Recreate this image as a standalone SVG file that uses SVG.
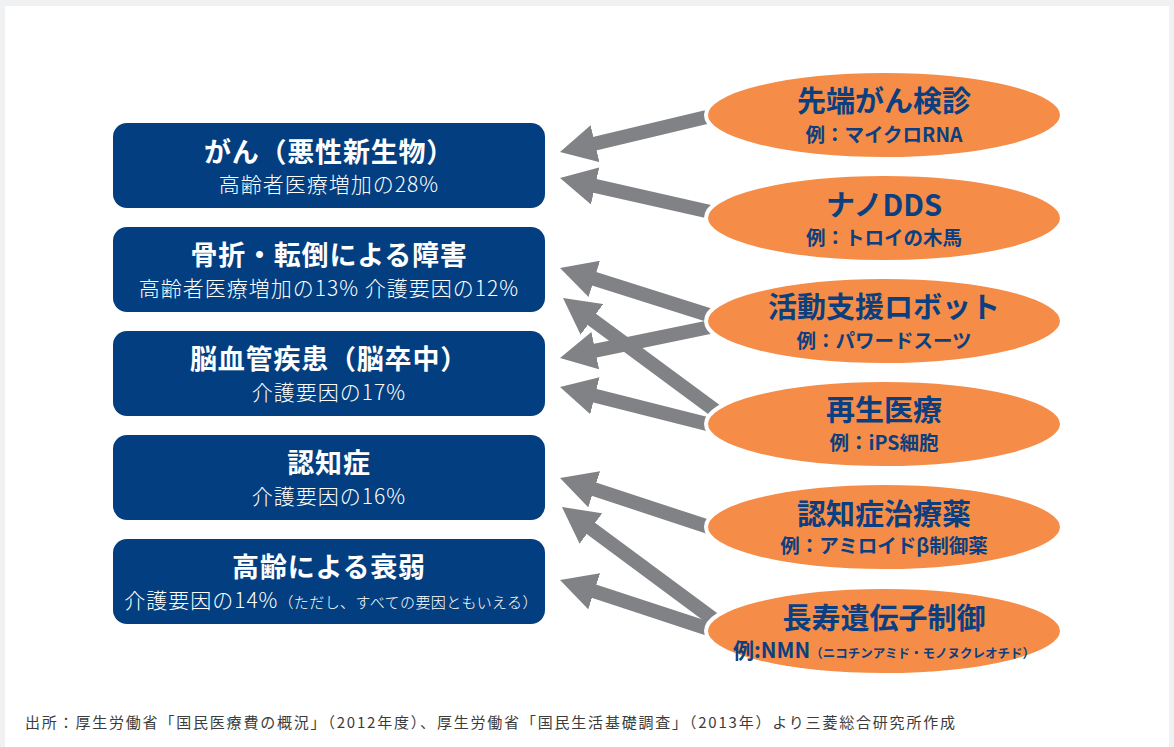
<svg xmlns="http://www.w3.org/2000/svg" width="1174" height="747" viewBox="0 0 1174 747">
<style>
.box{fill:#033f80}
.bt{fill:#fff;font-family:"Noto Sans CJK JP",sans-serif;font-weight:700;font-size:27px;letter-spacing:0.8px;text-anchor:middle}
.bs{fill:#fff;font-family:"Noto Sans CJK JP",sans-serif;font-weight:300;font-size:21px;letter-spacing:1px;text-anchor:middle}
.el{fill:#f58d48;stroke:#fff;stroke-width:4}
.et{fill:#0b3f7f;font-family:"Noto Sans CJK JP",sans-serif;font-weight:700;font-size:29px;text-anchor:middle}
.es{fill:#0b3f7f;font-family:"Noto Sans CJK JP",sans-serif;font-weight:700;font-size:19.5px;text-anchor:middle}
.ar{stroke:#808285;stroke-width:14;fill:none;marker-end:url(#ah)}
.ft{fill:#3c3c3c;font-family:"Noto Sans CJK JP",sans-serif;font-weight:400;font-size:15px;letter-spacing:1.8px}
</style>
<defs>
<marker id="ah" markerUnits="userSpaceOnUse" markerWidth="36" markerHeight="38" viewBox="0 0 36 38" refX="6" refY="19" orient="auto"><path d="M0,0 L36,19 L0,38 z" fill="#808285"/></marker>
</defs>
<rect x="0" y="0" width="1174" height="747" fill="#f0f1f3"/>
<rect x="5" y="6" width="1164" height="741" fill="#fff"/>

<g id="connectors">
<line class="ar" x1="715" y1="115" x2="589.2" y2="145.0"/>
<line class="ar" x1="715" y1="213" x2="589.3" y2="184.6"/>
<line class="ar" x1="715" y1="317" x2="588.6" y2="277.0"/>
<line class="ar" x1="720" y1="414" x2="587.1" y2="315.8"/>
<line class="ar" x1="715" y1="326" x2="589.4" y2="351.9"/>
<line class="ar" x1="715" y1="426" x2="589.1" y2="394.3"/>
<line class="ar" x1="715" y1="529" x2="588.5" y2="487.4"/>
<line class="ar" x1="720" y1="624" x2="586.1" y2="524.9"/>
<line class="ar" x1="715" y1="631" x2="588.5" y2="589.4"/>
</g>

<g id="box1"><rect class="box" x="113" y="123" width="432" height="85" rx="14"/>
<text class="bt" x="329" y="162">がん（悪性新生物）</text>
<text class="bs" x="329" y="192">高齢者医療増加の28%</text></g>
<g id="box2"><rect class="box" x="113" y="227" width="432" height="85" rx="14"/>
<text class="bt" x="329" y="265">骨折・転倒による障害</text>
<text class="bs" x="329" y="296">高齢者医療増加の13% 介護要因の12%</text></g>
<g id="box3"><rect class="box" x="113" y="331" width="432" height="85" rx="14"/>
<text class="bt" x="329" y="369">脳血管疾患（脳卒中）</text>
<text class="bs" x="329" y="400">介護要因の17%</text></g>
<g id="box4"><rect class="box" x="113" y="435" width="432" height="85" rx="14"/>
<text class="bt" x="329" y="473">認知症</text>
<text class="bs" x="329" y="504">介護要因の16%</text></g>
<g id="box5"><rect class="box" x="113" y="539" width="432" height="85" rx="14"/>
<text class="bt" x="329" y="577">高齢による衰弱</text>
<text class="bs" x="331" y="608">介護要因の14%<tspan font-size="15" letter-spacing="0.4">（ただし、すべての要因ともいえる）</tspan></text></g>

<g id="e1"><ellipse class="el" cx="884" cy="115" rx="178" ry="44"/>
<text class="et" x="884" y="112">先端がん検診</text>
<text class="es" x="884" y="142">例：マイクロRNA</text></g>
<g id="e2"><ellipse class="el" cx="884" cy="218" rx="178" ry="44"/>
<text class="et" x="884" y="216">ナノDDS</text>
<text class="es" x="884" y="245">例：トロイの木馬</text></g>
<g id="e3"><ellipse class="el" cx="884" cy="321" rx="178" ry="44"/>
<text class="et" x="884" y="318">活動支援ロボット</text>
<text class="es" x="884" y="348">例：パワードスーツ</text></g>
<g id="e4"><ellipse class="el" cx="884" cy="424" rx="178" ry="44"/>
<text class="et" x="884" y="421">再生医療</text>
<text class="es" x="884" y="450">例：iPS細胞</text></g>
<g id="e5"><ellipse class="el" cx="884" cy="527" rx="178" ry="44"/>
<text class="et" x="884" y="525">認知症治療薬</text>
<text class="es" x="884" y="553">例：アミロイドβ制御薬</text></g>
<g id="e6"><ellipse class="el" cx="884" cy="631" rx="178" ry="44"/>
<text class="et" x="884" y="629">長寿遺伝子制御</text>
<text class="es" x="884" y="658"><tspan font-size="21">例:NMN</tspan><tspan font-size="12.5">（ニコチンアミド・モノヌクレオチド）</tspan></text></g>

<text class="ft" x="25" y="728">出所：厚生労働省「国民医療費の概況」（2012年度）、厚生労働省「国民生活基礎調査」（2013年）より三菱総合研究所作成</text>
</svg>
